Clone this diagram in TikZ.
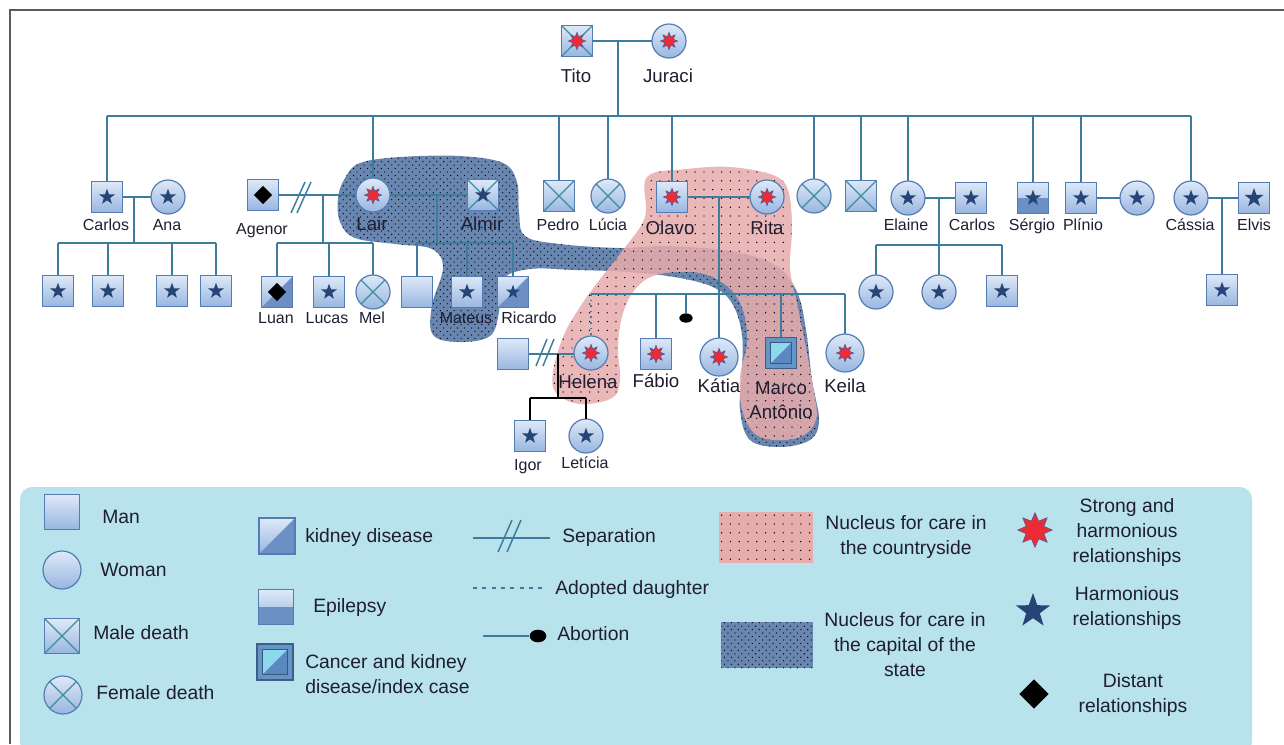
\documentclass[tikz,border=0pt]{standalone}
\usepackage{fontspec}
\setmainfont{Liberation Sans}
\usetikzlibrary{shapes.geometric,patterns.meta}
\definecolor{linec}{RGB}{62,124,158}
\definecolor{symd}{RGB}{84,124,178}
\definecolor{symt}{RGB}{222,233,248}
\definecolor{symb}{RGB}{152,182,224}
\definecolor{xc}{RGB}{58,142,160}
\definecolor{dstar}{RGB}{38,68,118}
\definecolor{redc}{RGB}{236,44,52}
\definecolor{burstd}{RGB}{70,90,160}
\definecolor{kidc}{RGB}{108,143,196}
\definecolor{legbg}{RGB}{185,227,236}
\definecolor{pinkc}{RGB}{231,172,172}
\definecolor{darkc}{RGB}{104,134,176}
\definecolor{txtc}{RGB}{30,30,48}
\definecolor{canout}{RGB}{98,150,198}
\definecolor{canlt}{RGB}{140,216,236}
\definecolor{candk}{RGB}{92,136,194}
\definecolor{framec}{RGB}{90,90,90}
\tikzdeclarepattern{name=pdots,type=uncolored,bottom left={(-1pt,-1pt)},top right={(1pt,1pt)},tile size={(6.6pt,6.6pt)},code={\fill (0pt,0pt) circle (0.55pt);}}
\tikzdeclarepattern{name=ddots,type=uncolored,bottom left={(-1pt,-1pt)},top right={(3.5pt,3.5pt)},tile size={(5.2pt,5.2pt)},code={\fill (0pt,0pt) circle (0.5pt); \fill (2.6pt,2.6pt) circle (0.5pt);}}
\tikzset{
 lnk/.style={draw=linec, line width=1.1pt},
 blk/.style={draw=black, line width=1.1pt},
 sym/.style={draw=symd, line width=0.9pt, top color=symt, bottom color=symb, inner sep=0pt, outer sep=0pt},
 man/.style={sym, rectangle, minimum size=23.5pt},
 woman/.style={sym, circle, minimum size=25.5pt},
 bigwoman/.style={sym, circle, minimum size=28.5pt},
 deadx/.style={path picture={\draw[xc, line width=0.9pt] (path picture bounding box.north west) -- (path picture bounding box.south east) (path picture bounding box.north east) -- (path picture bounding box.south west);}},
 kidney/.style={path picture={\fill[kidc] (path picture bounding box.south west) -- (path picture bounding box.south east) -- (path picture bounding box.north east) -- cycle;}},
 epil/.style={path picture={\fill[kidc] (path picture bounding box.west) rectangle (path picture bounding box.south east);}},
 cancer/.style={rectangle, minimum size=23.5pt, draw=symd!75!black, line width=0.9pt, fill=canout, inner sep=0pt, outer sep=0pt},
 cancin/.style={rectangle, minimum size=16pt, draw=symd!70!black, line width=0.6pt, fill=canlt, inner sep=0pt, path picture={\fill[candk] (path picture bounding box.south west) -- (path picture bounding box.south east) -- (path picture bounding box.north east) -- cycle;}},
 hstar/.style={star, star points=5, star point ratio=2.5, fill=dstar, draw=none, minimum size=12.5pt, inner sep=0pt},
 rburst/.style={star, star points=8, star point ratio=1.9, fill=redc, draw=burstd, line width=0.4pt, minimum size=13pt, inner sep=0pt},
 dmd/.style={diamond, fill=black, minimum size=14pt, inner sep=0pt},
 abt/.style={ellipse, fill=black, minimum width=10pt, minimum height=7pt, inner sep=0pt},
 lab/.style={text=txtc, font=\fontsize{12}{14}\selectfont, inner sep=0pt, text height=8.6pt, text depth=0pt},
 blab/.style={text=txtc, font=\fontsize{14}{16}\selectfont, inner sep=0pt, text height=10pt, text depth=0pt},
 leg/.style={text=txtc, font=\fontsize{14.5}{18.75}\selectfont, inner sep=0pt, text height=10.4pt, text depth=0pt, anchor=west},
 legm/.style={text=txtc, font=\fontsize{14.5}{18.75}\selectfont, inner sep=0pt, align=center},
}
\begin{document}
\begin{tikzpicture}[x=0.75pt,y=-0.75pt]
\useasboundingbox (0,0) rectangle (1284,744);
\draw[framec, line width=0.8pt] (10,744) -- (10,10) -- (1284,10);

% care nuclei
\path[preaction={fill=darkc}, pattern=ddots, pattern color=black] plot[smooth cycle, tension=0.6] coordinates {(345,178) (360,163) (400,157) (460,156) (503,163) (517,182) (519,212) (525,236) (560,244) (620,248) (665,246) (730,251) (775,265) (797,292) (806,330) (812,380) (819,420) (810,440) (780,447) (750,440) (740,410) (742,370) (742,335) (733,305) (715,288) (680,278) (630,272) (575,270) (530,269) (502,280) (499,312) (490,336) (460,342) (433,335) (432,305) (443,268) (432,249) (395,244) (355,238) (340,222) (338,198)};
\path[preaction={fill=pinkc, fill opacity=0.86}, pattern=pdots, pattern color=black] plot[smooth cycle, tension=0.6] coordinates {(647,177) (687,169) (730,167) (773,175) (788,190) (792,227) (790,268) (797,303) (805,343) (813,387) (816,420) (797,438) (760,437) (743,413) (740,377) (747,343) (743,310) (728,287) (700,273) (660,274) (637,287) (623,313) (618,347) (620,380) (612,398) (580,404) (556,393) (553,372) (563,337) (578,310) (597,283) (623,250) (645,217)};

% generation I
\node[man, deadx] (tito) at (577,41) {};
\node[rburst] (tito-s) at (tito) {};
\node[woman] (juraci) at (669,41) {};
\node[rburst] (juraci-s) at (juraci) {};
\node[blab] (tito-l) at (576,76) {Tito};
\node[blab] (juraci-l) at (668,76) {Juraci};

% generation II
\node[man] (carlos) at (107,197) {}; \node[hstar] (carlos-s) at (carlos) {};
\node[woman] (ana) at (168,197) {}; \node[hstar] (ana-s) at (ana) {};
\node[man] (agenor) at (263,195) {}; \node[dmd] (agenor-s) at (agenor) {};
\node[woman] (lair) at (373,195) {}; \node[rburst] (lair-s) at (lair) {};
\node[man, deadx] (almir) at (483,195) {}; \node[hstar] (almir-s) at (almir) {};
\node[man, deadx] (pedro) at (559,196) {};
\node[woman, deadx] (lucia) at (608,196) {};
\node[man] (olavo) at (672,197) {}; \node[rburst] (olavo-s) at (olavo) {};
\node[woman] (rita) at (767,197) {}; \node[rburst] (rita-s) at (rita) {};
\node[woman, deadx] (fd) at (814,196) {};
\node[man, deadx] (md) at (861,196) {};
\node[woman] (elaine) at (908,198) {}; \node[hstar] (elaine-s) at (elaine) {};
\node[man] (carlosb) at (971,198) {}; \node[hstar] (carlosb-s) at (carlosb) {};
\node[man, epil] (sergio) at (1033,198) {}; \node[hstar] (sergio-s) at (sergio) {};
\node[man] (plinio) at (1081,198) {}; \node[hstar] (plinio-s) at (plinio) {};
\node[woman] (pwife) at (1137,198) {}; \node[hstar] (pwife-s) at (pwife) {};
\node[woman] (cassia) at (1191,198) {}; \node[hstar] (cassia-s) at (cassia) {};
\node[man] (elvis) at (1254,198) {}; \node[hstar, minimum size=15pt] (elvis-s) at (elvis) {};

\node[lab] (carlos-l) at (106,225) {Carlos};
\node[lab] (ana-l) at (167,225) {Ana};
\node[lab] (agenor-l) at (262,229) {Agenor};
\node[blab] (lair-l) at (372,224) {Lair};
\node[blab] (almir-l) at (482,224) {Almir};
\node[lab] (pedro-l) at (558,225) {Pedro};
\node[lab] (lucia-l) at (608,225) {Lúcia};
\node[blab] (olavo-l) at (670,228) {Olavo};
\node[blab] (rita-l) at (767,228) {Rita};
\node[lab] (elaine-l) at (906,225) {Elaine};
\node[lab] (carlosb-l) at (972,225) {Carlos};
\node[lab] (sergio-l) at (1032,225) {Sérgio};
\node[lab] (plinio-l) at (1083,225) {Plínio};
\node[lab] (cassia-l) at (1190,225) {Cássia};
\node[lab] (elvis-l) at (1254,225) {Elvis};

% generation III
\node[man] (ck1) at (58,291) {}; \node[hstar] (ck1-s) at (ck1) {};
\node[man] (ck2) at (108,291) {}; \node[hstar] (ck2-s) at (ck2) {};
\node[man] (ck3) at (172,291) {}; \node[hstar] (ck3-s) at (ck3) {};
\node[man] (ck4) at (216,291) {}; \node[hstar] (ck4-s) at (ck4) {};
\node[man, kidney] (luan) at (277,292) {}; \node[dmd] (luan-s) at (luan) {};
\node[man] (lucas) at (329,292) {}; \node[hstar] (lucas-s) at (lucas) {};
\node[woman, deadx] (mel) at (373,292) {};
\node[man] (son) at (417,292) {};
\node[man] (mateus) at (467,292) {}; \node[hstar] (mateus-s) at (mateus) {};
\node[man, kidney] (ricardo) at (513,292) {}; \node[hstar, minimum size=11pt] (ricardo-s) at (ricardo) {};
\node[woman] (ek1) at (876,292) {}; \node[hstar] (ek1-s) at (ek1) {};
\node[woman] (ek2) at (939,292) {}; \node[hstar] (ek2-s) at (ek2) {};
\node[man] (ek3) at (1002,291) {}; \node[hstar] (ek3-s) at (ek3) {};
\node[man] (cvk) at (1222,290) {}; \node[hstar] (cvk-s) at (cvk) {};

\node[lab] (luan-l) at (276,318) {Luan};
\node[lab] (lucas-l) at (327,318) {Lucas};
\node[lab] (mel-l) at (372,318) {Mel};
\node[lab] (mateus-l) at (466,318) {Mateus};
\node[lab] (ricardo-l) at (529,318) {Ricardo};

\node[man] (husb) at (513,354) {};
\node[woman] (helena) at (591,353) {}; \node[rburst] (helena-s) at (helena) {};
\node[man] (fabio) at (656,354) {}; \node[rburst] (fabio-s) at (fabio) {};
\node[abt] (abort) at (686,318) {};
\node[bigwoman] (katia) at (719,357) {}; \node[rburst] (katia-s) at (katia) {};
\node[cancer] (marco) at (781,353) {}; \node[cancin] (marco-i) at (marco) {};
\node[bigwoman] (keila) at (845,353) {}; \node[rburst] (keila-s) at (keila) {};

\node[blab] (helena-l) at (588,382) {Helena};
\node[blab] (fabio-l) at (656,381) {Fábio};
\node[blab] (katia-l) at (719,386) {Kátia};
\node[blab] (marco-l) at (781,388) {Marco};
\node[blab] (marco-l2) at (781,412) {Antônio};
\node[blab] (keila-l) at (845,386) {Keila};

% generation IV
\node[man] (igor) at (530,436) {}; \node[hstar] (igor-s) at (igor) {};
\node[woman] (leticia) at (586,436) {}; \node[hstar] (leticia-s) at (leticia) {};
\node[lab] (igor-l) at (528,465) {Igor};
\node[lab] (leticia-l) at (585,463) {Letícia};

% ---------- connectors ----------
\coordinate (tj) at (618,41);
\coordinate (mainL) at (107,116);
\coordinate (mainR) at (1191,116);
\draw[lnk] (tito) -- (juraci);
\draw[lnk] (tj) -- (tj |- mainL);
\draw[lnk] (mainL) -- (mainR);
\foreach \n in {carlos,lair,pedro,lucia,olavo,fd,md,elaine,sergio,plinio,cassia}
  \draw[lnk] (\n |- mainL) -- (\n.north);

% Carlos + Ana
\coordinate (cj) at (134,197);
\coordinate (ckl) at (134,243);
\draw[lnk] (carlos) -- (ana);
\draw[lnk] (cj) -- (ckl);
\draw[lnk] (ck1 |- ckl) -- (ck4 |- ckl);
\foreach \n in {ck1,ck2,ck3,ck4} \draw[lnk] (\n |- ckl) -- (\n.north);

% Agenor + Lair (separated)
\coordinate (aj) at (323,195);
\coordinate (akl) at (323,243);
\draw[lnk] (agenor) -- (lair);
\draw[lnk] (291,213) -- (305,182) (297,213) -- (311,182);
\draw[lnk] (aj) -- (akl);
\draw[lnk] (luan |- akl) -- (mel |- akl);
\foreach \n in {luan,lucas,mel} \draw[lnk] (\n |- akl) -- (\n.north);

% Lair + Almir
\coordinate (lj) at (437,195);
\coordinate (lkl) at (437,243);
\draw[lnk] (lair) -- (almir);
\draw[lnk] (lj) -- (lkl);
\draw[lnk] (son |- lkl) -- (ricardo |- lkl);
\foreach \n in {son,mateus,ricardo} \draw[lnk] (\n |- lkl) -- (\n.north);

% Olavo + Rita
\coordinate (oj) at (719,197);
\coordinate (okl) at (719,294);
\draw[lnk] (olavo) -- (rita);
\draw[lnk] (oj) -- (okl);
\draw[lnk] (helena |- okl) -- (keila |- okl);
\foreach \n in {fabio,katia,marco,keila} \draw[lnk] (\n |- okl) -- (\n.north);
\draw[linec, line width=1.1pt, dash pattern=on 1.2pt off 3pt] (helena |- okl) -- (helena.north);
\draw[lnk] (abort |- okl) -- (abort.north);

% Helena + husband (separated)
\coordinate (hj) at (558,354);
\coordinate (hkl) at (558,398);
\draw[lnk] (husb) -- (helena.west |- husb);
\draw[lnk] (536,366) -- (547,339) (543,366) -- (554,339);
\draw[blk] (hj) -- (hkl);
\draw[blk] (igor |- hkl) -- (leticia |- hkl);
\foreach \n in {igor,leticia} \draw[blk] (\n |- hkl) -- (\n.north);

% Elaine + Carlos
\coordinate (ej) at (939,198);
\coordinate (ekl) at (939,245);
\draw[lnk] (elaine) -- (carlosb);
\draw[lnk] (ej) -- (ekl);
\draw[lnk] (ek1 |- ekl) -- (ek3 |- ekl);
\foreach \n in {ek1,ek2,ek3} \draw[lnk] (\n |- ekl) -- (\n.north);

% Plinio + wife
\draw[lnk] (plinio) -- (pwife);

% Cassia + Elvis
\coordinate (cvj) at (1222,198);
\draw[lnk] (cassia) -- (elvis);
\draw[lnk] (cvj) -- (cvk.north);

% ---------- legend ----------
\fill[legbg, rounded corners=9pt] (20,487) rectangle (1252,754);
\node[man, minimum size=26pt] (lman) at (62,512) {};
\node[leg] (lman-l) at (102,517) {Man};
\node[woman, minimum size=28.5pt] (lwoman) at (62,570) {};
\node[leg] (lwoman-l) at (100,570) {Woman};
\node[man, deadx, minimum size=26pt] (lmd) at (62,636) {};
\node[leg] (lmd-l) at (93,633) {Male death};
\node[woman, deadx, minimum size=28.5pt] (lfd) at (63,695) {};
\node[leg] (lfd-l) at (96,693) {Female death};

\node[man, kidney, minimum size=27pt] (lkid) at (277,536) {};
\node[leg] (lkid-l) at (305,536) {kidney disease};
\node[man, epil, minimum size=26pt] (lepi) at (276,607) {};
\node[leg] (lepi-l) at (313,606) {Epilepsy};
\node[cancer, minimum size=27pt] (lcan) at (275,662) {};
\node[cancin, minimum size=19pt] (lcan-i) at (lcan) {};
\node[legm, anchor=west, align=left] (lcan-l) at (305,674) {Cancer and kidney\\disease/index case};

\coordinate (ls1) at (473,538);
\coordinate (ls2) at (550,538);
\draw[lnk] (ls1) -- (ls2);
\draw[lnk] (498,552) -- (512,520) (507,552) -- (521,520);
\node[leg] (lsep-l) at (562,536) {Separation};
\coordinate (la1) at (473,588);
\coordinate (la2) at (545,588);
\draw[linec, line width=1pt, dash pattern=on 3pt off 4pt] (la1) -- (la2);
\node[leg] (lad-l) at (555,588) {Adopted daughter};
\node[abt, minimum width=12.5pt, minimum height=9.5pt] (lab1) at (538,636) {};
\coordinate (lb0) at (483,636);
\draw[lnk] (lb0) -- (lab1);
\node[leg] (labo-l) at (557,634) {Abortion};

\path[preaction={fill=pinkc}, pattern=pdots, pattern color=black] (719,512) rectangle (813,563);
\node[legm] (lpink-l) at (906,537) {Nucleus for care in\\the countryside};
\path[preaction={fill=darkc}, pattern=ddots, pattern color=black] (721,622) rectangle (813,668);
\node[legm] (ldark-l) at (905,645) {Nucleus for care in\\the capital of the\\state};

\node[rburst, minimum size=26pt, star point ratio=1.8] (lburst) at (1035,530) {};
\node[legm] (lburst-l) at (1127,532) {Strong and\\harmonious\\relationships};
\node[hstar, minimum size=27pt] (lstar) at (1033,611) {};
\node[legm] (lstar-l) at (1127,608) {Harmonious\\relationships};
\node[dmd, minimum size=22pt] (ldmd) at (1034,694) {};
\node[legm] (ldmd-l) at (1133,695) {Distant\\relationships};
\end{tikzpicture}
\end{document}
